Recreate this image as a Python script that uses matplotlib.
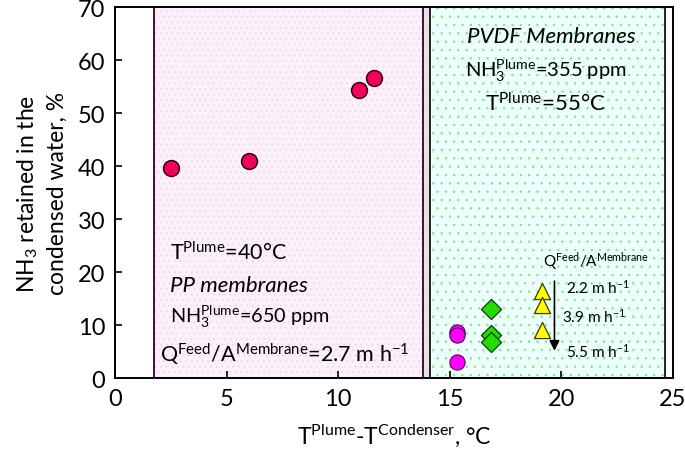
import matplotlib
matplotlib.use("Agg")
import matplotlib.pyplot as plt
from matplotlib.patches import Rectangle

plt.rcParams['font.family'] = ['Lato', 'DejaVu Sans']
plt.rcParams['mathtext.fontset'] = 'custom'
plt.rcParams['mathtext.rm'] = 'Lato'
plt.rcParams['mathtext.it'] = 'Lato:italic'
plt.rcParams['mathtext.bf'] = 'Lato:bold'
plt.rcParams['hatch.linewidth'] = 0.5

# PP membranes (Q/A = 2.7 m/h)
pp_x = [2.5, 6.0, 10.95, 11.6]
pp_y = [39.6, 41.0, 54.3, 56.6]

# PVDF membranes, three feed flow rates
pvdf_circle_x = [15.35, 15.35, 15.35]
pvdf_circle_y = [8.7, 8.1, 3.0]
pvdf_diamond_x = [16.85, 16.85, 16.85]
pvdf_diamond_y = [13.0, 8.2, 6.8]
pvdf_tri_x = [19.15, 19.15, 19.15]
pvdf_tri_y = [16.4, 13.8, 9.1]

# shaded regions (x ranges)
pp_region = (1.75, 13.8)
pvdf_region = (14.1, 24.65)

xticks = [0, 5, 10, 15, 20, 25]
yticks = [0, 10, 20, 30, 40, 50, 60, 70]

fig = plt.figure(figsize=(6.85, 4.52), dpi=100)
ax = fig.add_axes([0.168, 0.1615, 0.814, 0.8205])
ax.set_xlim(0, 25)
ax.set_ylim(0, 70)

# gray gap between the two regions
ax.axvspan(pp_region[1], pvdf_region[0], color='#e4e4e4', lw=0, zorder=0)

# pink PP region
ax.axvspan(pp_region[0], pp_region[1], facecolor='#fcf0fa', lw=0, zorder=0)
ax.axvspan(pp_region[0], pp_region[1], facecolor='none', edgecolor='#ead6e6',
           hatch='...', lw=0, zorder=0.5)
ax.add_patch(Rectangle((pp_region[0], 0), pp_region[1] - pp_region[0], 70,
                       fill=False, edgecolor='#4a0a40', lw=1.4, zorder=1))

# cyan PVDF region
ax.axvspan(pvdf_region[0], pvdf_region[1], facecolor='#ecfffd', lw=0, zorder=0)
ax.axvspan(pvdf_region[0], pvdf_region[1], facecolor='none', edgecolor='#80e67c',
           hatch='..', lw=0, zorder=0.5)
ax.add_patch(Rectangle((pvdf_region[0], 0), pvdf_region[1] - pvdf_region[0], 70,
                       fill=False, edgecolor='#222222', lw=1.4, zorder=1))

ax.scatter(pp_x, pp_y, s=130, c='#f2005c', edgecolors='#300010', linewidths=1.1, zorder=3)
ax.scatter(pvdf_circle_x, pvdf_circle_y, s=120, c='#ff00ff', edgecolors='#5a005a',
           linewidths=0.8, zorder=3)
ax.scatter(pvdf_diamond_x, pvdf_diamond_y, s=105, marker='D', c='#22dd00',
           edgecolors='#0a3a00', linewidths=0.9, zorder=3)
ax.scatter(pvdf_tri_x, pvdf_tri_y, s=135, marker='^', c='#ffff00',
           edgecolors='#3a3a00', linewidths=0.9, zorder=3)

# arrow for increasing flow rate
ax.annotate('', xy=(19.7, 4.6), xytext=(19.7, 18.8),
            arrowprops=dict(arrowstyle='-|>', color='black', lw=1.2,
                            mutation_scale=15), zorder=4)

# PP annotations
ax.text(2.45, 23.8, r'T$^{\mathrm{Plume}}$=40°C', fontsize=15.5, va='center')
ax.text(2.45, 17.5, 'PP membranes', fontsize=16, style='italic', va='center')
ax.text(2.45, 11.7, r'NH$_3^{\mathrm{Plume}}$=650 ppm', fontsize=14.3, va='center')
ax.text(2.0, 4.8, r'Q$^{\mathrm{Feed}}$/A$^{\mathrm{Membrane}}$=2.7 m h$^{\mathrm{-1}}$',
        fontsize=15.5, va='center')

# PVDF annotations
ax.text(19.55, 64.5, 'PVDF Membranes', fontsize=16, style='italic', ha='center', va='center')
ax.text(19.3, 58.2, r'NH$_3^{\mathrm{Plume}}$=355 ppm', fontsize=14.5, ha='center', va='center')
ax.text(19.3, 52.0, r'T$^{\mathrm{Plume}}$=55°C', fontsize=16, ha='center', va='center')
ax.text(19.2, 22.1, r'Q$^{\mathrm{Feed}}$/A$^{\mathrm{Membrane}}$', fontsize=11, va='center')
ax.text(20.2, 17.2, r'2.2 m h$^{\mathrm{-1}}$', fontsize=11, va='center')
ax.text(20.05, 11.7, r'3.9 m h$^{\mathrm{-1}}$', fontsize=11, va='center')
ax.text(20.2, 5.1, r'5.5 m h$^{\mathrm{-1}}$', fontsize=11, va='center')

ax.set_xticks(xticks)
ax.set_yticks(yticks)
ax.tick_params(direction='in', length=5, width=1.2, labelsize=17, pad=7)
for s in ax.spines.values():
    s.set_linewidth(1.4)
    s.set_zorder(5)

ax.set_xlabel(r'T$^{\mathrm{Plume}}$-T$^{\mathrm{Condenser}}$, °C', fontsize=16.5, labelpad=9)
ax.set_ylabel('NH$_3$ retained in the\ncondensed water, %', fontsize=16.5, labelpad=7,
              linespacing=1.4)

fig.savefig('out.png', dpi=100)
